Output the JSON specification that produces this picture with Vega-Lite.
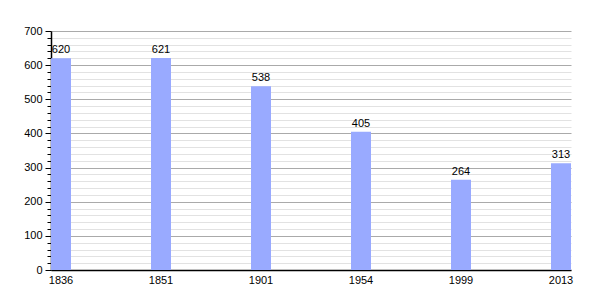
{
  "$schema": "https://vega.github.io/schema/vega-lite/v6.json",
  "width": 520,
  "height": 239,
  "autosize": "none",
  "padding": {"left": 51, "top": 31, "right": 29, "bottom": 30},
  "background": "white",
  "config": {
    "view": {"stroke": null},
    "font": "Liberation Sans"
  },
  "data": {
    "values": [
      {"year": "1836", "pop": 620},
      {"year": "1851", "pop": 621},
      {"year": "1901", "pop": 538},
      {"year": "1954", "pop": 405},
      {"year": "1999", "pop": 264},
      {"year": "2013", "pop": 313}
    ]
  },
  "encoding": {
    "x": {
      "field": "year",
      "type": "ordinal",
      "sort": null,
      "scale": {"paddingInner": 0.8, "paddingOuter": 0},
      "axis": {
        "title": null,
        "labelAngle": 0,
        "ticks": false,
        "domainColor": "black",
        "domainWidth": 1.5,
        "labelColor": "black",
        "labelFontSize": 11,
        "labelPadding": 4
      }
    },
    "y": {
      "field": "pop",
      "type": "quantitative",
      "scale": {"domain": [0, 700], "nice": false},
      "axis": {
        "title": null,
        "values": [0,20,40,60,80,100,120,140,160,180,200,220,240,260,280,300,320,340,360,380,400,420,440,460,480,500,520,540,560,580,600,620,640,660,680,700],
        "labelExpr": "datum.value % 100 == 0 ? datum.label : ''",
        "gridColor": {"condition": {"test": "datum.value % 100 == 0", "value": "#aaaaaa"}, "value": "#e2e2e2"},
        "gridWidth": 1,
        "tickColor": "black",
        "tickSize": {"condition": {"test": "datum.value % 100 == 0", "value": 6}, "value": 4},
        "domainColor": "black",
        "domainWidth": 1.5,
        "labelColor": "black",
        "labelFontSize": 11,
        "labelPadding": 3
      }
    }
  },
  "layer": [
    {"mark": {"type": "bar", "color": "#99aaff"}},
    {
      "mark": {"type": "text", "baseline": "bottom", "dy": -3, "fontSize": 11, "color": "black"},
      "encoding": {"text": {"field": "pop", "type": "quantitative"}}
    }
  ]
}
